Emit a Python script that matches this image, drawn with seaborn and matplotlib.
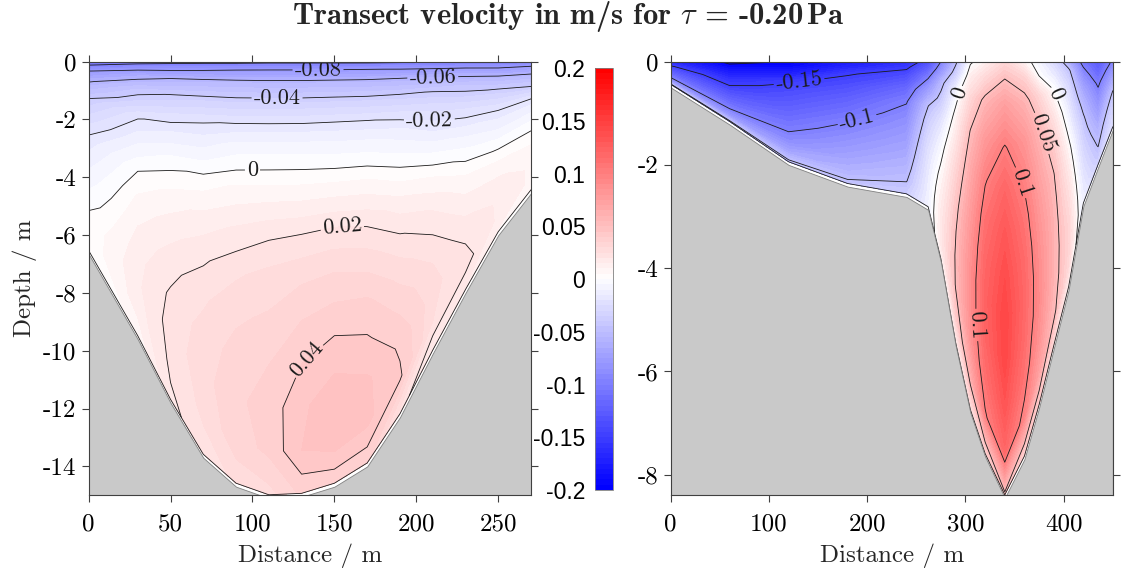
import numpy as np
import matplotlib
matplotlib.use("Agg")
import matplotlib.pyplot as plt
from matplotlib.colors import BoundaryNorm
from matplotlib.cm import ScalarMappable
import seaborn as sns

# ---------------- transect 1: deep V-shaped channel ----------------
dist_1 = np.array([0, 30, 50, 70, 90, 110, 130, 150, 170, 190, 210, 230, 250, 270])
bed_1 = np.array([6.65, 9.6, 11.8, 13.7, 14.7, 15.1, 15.05, 14.7, 14.0, 12.3, 10.1, 8.0, 6.0, 4.55])
sigma_1 = np.array([0, 0.02, 0.05, 0.1, 0.15, 0.2, 0.3, 0.4, 0.5, 0.6, 0.7, 0.8, 0.9, 1.0])
# one row per station, surface -> bed (m/s)
vel_1 = np.array([
    [-0.112, -0.099, -0.080, -0.062, -0.050, -0.039, -0.028, -0.019, -0.0135, -0.0085, -0.004, 0.0005, 0.002, 0.002],
    [-0.108, -0.088, -0.066, -0.045, -0.033, -0.021, -0.010, 0.000, 0.006, 0.010, 0.013, 0.014, 0.012, 0.006],
    [-0.106, -0.085, -0.060, -0.039, -0.026, -0.016, -0.002, 0.007, 0.013, 0.018, 0.021, 0.022, 0.021, 0.019],
    [-0.105, -0.082, -0.056, -0.035, -0.021, -0.013, 0.002, 0.012, 0.019, 0.024, 0.027, 0.028, 0.026, 0.022],
    [-0.105, -0.080, -0.055, -0.034, -0.019, -0.008, 0.006, 0.016, 0.024, 0.029, 0.032, 0.034, 0.033, 0.026],
    [-0.104, -0.079, -0.055, -0.033, -0.018, -0.007, 0.007, 0.019, 0.027, 0.031, 0.035, 0.037, 0.036, 0.028],
    [-0.104, -0.079, -0.055, -0.033, -0.018, -0.007, 0.007, 0.020, 0.029, 0.035, 0.040, 0.044, 0.045, 0.036],
    [-0.104, -0.079, -0.055, -0.033, -0.018, -0.008, 0.007, 0.021, 0.030, 0.037, 0.043, 0.048, 0.048, 0.036],
    [-0.104, -0.079, -0.056, -0.034, -0.019, -0.009, 0.006, 0.019, 0.028, 0.036, 0.041, 0.046, 0.046, 0.036],
    [-0.103, -0.081, -0.058, -0.037, -0.023, -0.013, 0.000, 0.012, 0.021, 0.028, 0.034, 0.039, 0.041, 0.022],
    [-0.102, -0.083, -0.062, -0.041, -0.029, -0.021, -0.007, 0.005, 0.014, 0.020, 0.025, 0.027, 0.025, 0.015],
    [-0.102, -0.085, -0.066, -0.046, -0.036, -0.026, -0.013, -0.003, 0.005, 0.011, 0.016, 0.020, 0.022, 0.014],
    [-0.101, -0.088, -0.074, -0.054, -0.042, -0.033, -0.018, -0.010, -0.001, 0.006, 0.011, 0.014, 0.014, 0.009],
    [-0.100, -0.087, -0.074, -0.059, -0.047, -0.039, -0.018, -0.010, -0.002, 0.003, 0.007, 0.009, 0.009, 0.006],
])

# ---------------- transect 2: shallow shelf + narrow channel ----------------
dist_2 = np.array([0, 60, 120, 180, 240, 262, 275, 290, 305, 320, 340, 360, 375, 390, 405, 420, 435, 450])
bed_2 = np.array([0.5, 1.22, 2.0, 2.42, 2.62, 2.87, 3.88, 5.5, 6.8, 7.65, 8.45, 7.7, 6.7, 5.55, 4.42, 2.8, 2.05, 1.32])
sigma_2 = np.array([0, 0.04, 0.1, 0.2, 0.3, 0.4, 0.5, 0.6, 0.7, 0.8, 0.9, 1.0])
vel_2 = np.array([
    [-0.175, -0.170, -0.160, -0.148, -0.138, -0.128, -0.119, -0.110, -0.100, -0.088, -0.070, -0.045],
    [-0.205, -0.200, -0.190, -0.175, -0.160, -0.150, -0.138, -0.125, -0.112, -0.098, -0.080, -0.045],
    [-0.200, -0.195, -0.180, -0.152, -0.140, -0.130, -0.120, -0.110, -0.100, -0.088, -0.070, -0.045],
    [-0.180, -0.172, -0.152, -0.138, -0.124, -0.112, -0.100, -0.090, -0.080, -0.070, -0.060, -0.045],
    [-0.165, -0.155, -0.140, -0.118, -0.102, -0.092, -0.083, -0.075, -0.067, -0.059, -0.051, -0.040],
    [-0.140, -0.125, -0.105, -0.075, -0.051, -0.040, -0.032, -0.025, -0.020, -0.016, -0.013, -0.010],
    [-0.100, -0.085, -0.060, -0.040, -0.022, -0.010, -0.001, 0.007, 0.013, 0.017, 0.017, 0.010],
    [-0.055, -0.040, -0.012, 0.008, 0.022, 0.034, 0.043, 0.049, 0.052, 0.051, 0.040, 0.010],
    [-0.003, 0.012, 0.030, 0.051, 0.064, 0.074, 0.082, 0.087, 0.088, 0.082, 0.062, 0.020],
    [0.010, 0.030, 0.056, 0.080, 0.098, 0.110, 0.118, 0.122, 0.120, 0.112, 0.098, 0.030],
    [0.030, 0.050, 0.075, 0.102, 0.120, 0.132, 0.140, 0.145, 0.143, 0.133, 0.118, 0.045],
    [0.008, 0.035, 0.058, 0.082, 0.097, 0.108, 0.115, 0.118, 0.115, 0.108, 0.094, 0.030],
    [-0.010, -0.001, 0.032, 0.055, 0.068, 0.078, 0.085, 0.089, 0.090, 0.085, 0.072, 0.035],
    [-0.030, -0.018, 0.000, 0.022, 0.040, 0.051, 0.057, 0.060, 0.060, 0.058, 0.053, 0.025],
    [-0.065, -0.045, -0.032, -0.018, -0.005, 0.008, 0.018, 0.026, 0.032, 0.034, 0.030, 0.010],
    [-0.110, -0.100, -0.088, -0.070, -0.057, -0.047, -0.040, -0.033, -0.027, -0.021, -0.016, -0.010],
    [-0.130, -0.125, -0.118, -0.105, -0.095, -0.085, -0.075, -0.066, -0.058, -0.052, -0.045, -0.035],
    [-0.095, -0.092, -0.085, -0.075, -0.063, -0.053, -0.046, -0.040, -0.035, -0.031, -0.028, -0.025],
])

# ---------------- levels, ticks, labels ----------------
fill_levels = np.linspace(-0.2, 0.2, 81)
plain_levels_1 = [-0.1]
label_levels_1 = [-0.08, -0.06, -0.04, -0.02, 0.0, 0.02, 0.04]
plain_levels_2 = [-0.2, -0.05]
label_levels_2 = [-0.15, -0.1, 0.0, 0.05, 0.1]

xticks_1 = [0, 50, 100, 150, 200, 250]
yticks_1 = [0, -2, -4, -6, -8, -10, -12, -14]
xticks_2 = [0, 100, 200, 300, 400]
yticks_2 = [0, -2, -4, -6, -8]
cbar_ticks = [-0.2, -0.15, -0.1, -0.05, 0, 0.05, 0.1, 0.15, 0.2]
cbar_ticklabels = ["-0.2", "-0.15", "-0.1", "-0.05", "0", "0.05", "0.1", "0.15", "0.2"]

title = r"Transect velocity in m/s for $\tau$ = -0.20$\,$Pa"

# ---------------- style ----------------
sns.set_theme(style="ticks")
plt.rcParams.update({
    "font.family": "cmr10",
    "mathtext.fontset": "cm",
    "axes.unicode_minus": False,
    "axes.formatter.use_mathtext": True,
    "contour.negative_linestyle": "solid",
    "axes.linewidth": 0.8,
    "axes.edgecolor": "#404040",
    "xtick.color": "#404040",
    "ytick.color": "#404040",
    "xtick.labelcolor": "black",
    "ytick.labelcolor": "black",
})

cmap = sns.blend_palette(["#0000ff", "#ffffff", "#ff0000"], n_colors=256, as_cmap=True)
bed_grey = "#c9c9c9"


def fmt(v):
    return f"{v:g}"


def draw_transect(ax, dist, bed, sigma, vel, plain_levels, label_levels,
                  label_pos, xlim, ylim, xticks, yticks, gap):
    data_bottom = bed - gap
    X = np.tile(dist, (len(sigma), 1))
    Z = -np.outer(sigma, data_bottom)
    V = vel.T
    ax.contourf(X, Z, V, levels=fill_levels, cmap=cmap, extend="both")
    ax.contour(X, Z, V, levels=plain_levels, colors="k", linewidths=0.6,
               linestyles="solid")
    cs = ax.contour(X, Z, V, levels=label_levels, colors="k", linewidths=0.6,
                    linestyles="solid")
    ax.clabel(cs, manual=label_pos, inline=True, fmt=fmt, fontsize=16,
              inline_spacing=2)
    ax.plot(dist, -data_bottom, color="k", lw=0.6)
    ax.fill_between(dist, -bed, ylim[0], facecolor=bed_grey,
                    edgecolor="#808080", lw=0.6, zorder=3)
    ax.set_xlim(*xlim)
    ax.set_ylim(*ylim)
    ax.set_xticks(xticks)
    ax.set_xticklabels([str(t) for t in xticks])
    ax.set_yticks(yticks)
    ax.set_yticklabels([str(t) for t in yticks])
    ax.tick_params(axis="x", pad=8)
    ax.tick_params(axis="y", pad=4)
    ax.tick_params(direction="out", length=5, width=0.8, top=True, right=True,
                   labelsize=18)
    for s in ax.spines.values():
        s.set_visible(True)
        s.set_zorder(5)
    ax.set_xlabel("Distance / m", fontsize=18, labelpad=6)


fig = plt.figure(figsize=(11.33, 5.74), dpi=100)

ax1 = fig.add_axes([0.0782, 0.1370, 0.3905, 0.7556])
draw_transect(ax1, dist_1, bed_1, sigma_1, vel_1, plain_levels_1, label_levels_1,
              [(140, -0.2), (210, -0.5), (115, -1.15), (208, -2.05),
               (100, -3.65), (155, -5.9), (130, -10.1)],
              (0, 270), (-15, 0), xticks_1, yticks_1, gap=0.12)
ax1.set_ylabel("Depth / m", fontsize=18, labelpad=4)

ax2 = fig.add_axes([0.5920, 0.1370, 0.3902, 0.7556])
draw_transect(ax2, dist_2, bed_2, sigma_2, vel_2, plain_levels_2, label_levels_2,
              [(130, -0.3), (189, -1.08), (292.7, -0.6), (394.5, -0.6),
               (381, -1.37), (357, -2.34), (311, -5.1)],
              (0, 450), (-8.4, 0), xticks_2, yticks_2, gap=0.06)

# colour bar between the panels
cax = fig.add_axes([0.5252, 0.1463, 0.0159, 0.7352])
sm = ScalarMappable(norm=BoundaryNorm(fill_levels, cmap.N), cmap=cmap)
cb = fig.colorbar(sm, cax=cax, ticks=cbar_ticks)
cb.minorticks_off()
cb.ax.yaxis.set_ticks_position("left")
cb.ax.set_yticks(cbar_ticks)
cb.ax.set_yticklabels(cbar_ticklabels, family="Liberation Sans", fontsize=16.5)
cb.ax.tick_params(which="both", length=0, pad=7, right=False)
cb.outline.set_linewidth(0.6)
cb.outline.set_edgecolor("#808080")

fig.text(0.502, 1 - 24 / 574, title, family="cmb10", fontsize=22,
         ha="center", va="baseline")

fig.savefig("out.png", dpi=100)
